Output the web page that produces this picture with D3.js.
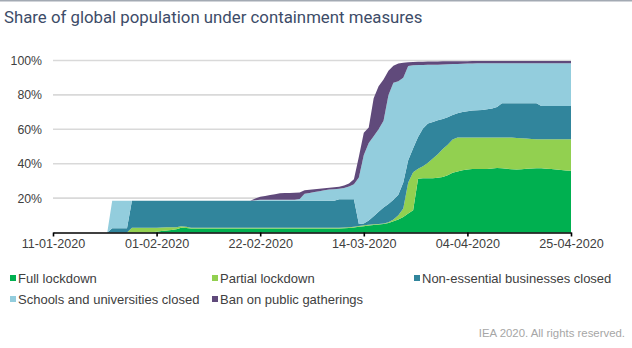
<!DOCTYPE html>
<html>
<head>
<meta charset="utf-8">
<script src="https://cdn.jsdelivr.net/npm/d3@7"></script>
<style>
  html, body { margin: 0; padding: 0; background: #fff; }
  svg { display: block; }
</style>
</head>
<body>
<svg id="chart" width="632" height="348"></svg>
<script>
// Daily share of world population (%) under each type of measure, 11 Jan – 25 Apr 2020
const firstDay = "2020-01-11";
const lastDay = "2020-04-25";
const tickDates = ["2020-01-11", "2020-02-01", "2020-02-22", "2020-03-14", "2020-04-04", "2020-04-25"];
const yTicks = [20, 40, 60, 80, 100];

const seriesKeys = ["full", "partial", "nonEssential", "schools", "ban"];
const seriesNames = ["Full lockdown", "Partial lockdown", "Non-essential businesses closed",
                     "Schools and universities closed", "Ban on public gatherings"];
const seriesColors = ["#00b050", "#92d050", "#31859c", "#93cddd", "#604a7b"];

const fullLockdown = [
  0,0,0,0,0,0,0,0,0,0,0,0,
  0,0,0,0,0,0,0,0,
  0.2,0.4,0.8,1.2,1.5,1.9,2.8,2.6,
  2.3,2.3,2.3,2.3,2.3,2.3,2.3,2.3,2.3,2.3,2.3,2.3,2.3,2.3,2.3,2.3,2.3,2.3,2.3,2.3,2.3,2.3,2.3,2.3,2.3,2.3,2.3,2.3,2.3,2.3,2.3,
  2.4,2.6,2.9,3.3,3.7,4.0,4.3,4.6,4.9,5.5,6.5,7.5,9,11,13,31.3,31.5,31.5,31.5,31.8,32.3,33.3,34.8,35.5,36.2,36.7,
  36.9,36.9,36.9,36.9,37.2,37.5,37.3,37.0,36.8,36.7,36.8,37.0,37.2,37.3,37.3,37.1,36.9,36.6,36.3,36.1,35.9
];
const partialLockdown = [
  0,0,0,0,0,0,0,0,0,0,0,0,0,0,0,0,
  2.8,2.8,2.8,2.8,
  2.6,2.4,2.1,1.8,1.5,1.2,0.8,0.7,
  0.5,0.5,0.5,0.5,0.5,0.5,0.5,0.5,0.5,0.5,0.5,0.5,0.5,0.5,0.5,0.5,0.5,0.5,0.5,0.5,0.5,0.5,0.5,0.5,0.5,0.5,0.5,0.5,0.5,0.5,0.5,
  0.5,0.5,0.5,0.5,0.5,0.5,0.5,0.4,0.4,0.5,
  1.0,2.5,5,18,22,5.7,7,9,11.5,13.7,16.2,17.7,19.2,19.8,19.1,18.6,18.4,18.4,18.4,18.4,18.1,17.8,18.0,18.3,18.4,18.3,
  18.0,17.6,17.2,16.9,16.9,17.1,17.3,17.6,17.9,18.1,18.3
];
const nonEssentialClosed = [
  0,0,0,0,0,0,0,0,0,0,0,0,
  2.5,2.5,2.5,2.5,
  15.7,15.7,15.7,15.7,
  15.7,15.7,15.6,15.5,15.5,15.4,14.9,15.2,
  15.7,15.7,15.7,15.7,15.7,15.7,15.7,15.7,15.7,15.7,15.7,15.7,15.7,15.7,15.7,15.7,15.7,15.7,15.7,15.7,15.7,15.7,15.7,15.7,15.7,15.7,15.7,15.7,15.7,15.7,
  16.5,16.4,16.2,15.9,1.2,1.1,2.5,4.7,7.0,9.2,10.5,11.5,12,15,13,14,18.5,22,22.8,21.3,19.7,17.5,16.0,14.3,14.0,14.7,15.2,
  15.6,15.8,15.9,16.3,16.8,17.7,19.8,19.8,19.9,20.1,20.3,20.5,20.7,20.9,19.4,19.4,19.4,19.4,19.4,19.4,19.4
];
const schoolsClosed = [
  0,0,0,0,0,0,0,0,0,0,0,0,
  16,16,16,16,
  0,0,0,0,0,0,0,0,0,0,0,0,0,0,0,0,0,0,0,0,0,0,0,0,0,
  0.3,0.5,0.5,0.5,0.5,0.5,0.5,0.5,0.5,
  1.0,4.0,4.5,5.0,5.5,6.0,6.5,6.7,6.1,6.5,7.5,8.7,27,39.7,45,46.5,48,50.5,63.5,68,66,61,54.8,48.2,41.9,36.9,34.2,33.2,
  32.4,31.7,30.8,29.6,28.7,28.1,27.7,27.4,27.3,27.2,26.8,26.3,25.4,23.3,
  23.3,23.3,23.3,23.3,23.3,23.3,23.3,
  24.8,24.8,24.8,24.8,24.8,24.8,24.8
];
const gatheringsBanned = [
  0,0,0,0,0,0,0,0,0,0,0,0,0,0,0,0,0,0,0,0,0,0,0,0,0,0,0,0,0,0,0,0,0,0,0,0,0,0,0,0,0,
  1.0,1.8,2.2,2.8,3.3,3.8,4.0,4.0,4.1,3.8,2.0,1.9,1.7,1.5,1.2,1.0,1.1,1.2,1.5,1.7,3.0,12,13,9,22,25,24,14,10,10.3,8.7,
  2.2,2.0,1.9,1.9,1.9,1.9,1.8,1.8,1.7,1.6,1.6,1.5,1.4,1.4,
  1.3,1.3,1.3,1.3,1.3,1.3,1.3,1.3,1.3,1.3,1.3,1.3,1.3,1.3,1.3,1.3,1.3,1.3,1.3,1.3
];

// ---- build rows for the stack ----
const parse = d3.utcParse("%Y-%m-%d");
const days = d3.utcDay.range(parse(firstDay), d3.utcDay.offset(parse(lastDay), 1));
const columns = [fullLockdown, partialLockdown, nonEssentialClosed, schoolsClosed, gatheringsBanned];
const rows = days.map((date, i) => {
  const r = { date };
  seriesKeys.forEach((k, j) => { r[k] = columns[j][i]; });
  return r;
});

const svg = d3.select("#chart");
const W = 632, H = 348;
const margin = { left: 53, right: 61, top: 60.5, bottom: 115.5 };
const plotBottom = H - margin.bottom;

const x = d3.scaleUtc()
  .domain([parse(firstDay), parse(lastDay)])
  .range([margin.left, W - margin.right]);
const y = d3.scaleLinear().domain([0, 100]).range([plotBottom, margin.top]);

// top rule and title
svg.append("rect").attr("x", 0).attr("y", 0).attr("width", W).attr("height", 1.5).attr("fill", "#a3aab3");
svg.append("text")
  .attr("x", 4).attr("y", 22.5)
  .attr("font-family", "Roboto, 'Open Sans', sans-serif")
  .attr("font-size", 16.8)
  .attr("fill", "#3d4c68")
  .text("Share of global population under containment measures");

// gridlines
svg.append("g").selectAll("line").data(yTicks).join("line")
  .attr("x1", margin.left).attr("x2", W - margin.right)
  .attr("y1", d => y(d)).attr("y2", d => y(d))
  .attr("stroke", "#d9d9d9").attr("stroke-width", 1.6);

// stacked areas
const stack = d3.stack().keys(seriesKeys);
const layers = stack(rows);
const area = d3.area()
  .x(d => x(d.data.date))
  .y0(d => y(d[0]))
  .y1(d => y(d[1]));
svg.append("g").selectAll("path").data(layers).join("path")
  .attr("d", area)
  .attr("fill", (d, i) => seriesColors[i]);

// y axis labels
const yAxis = d3.axisLeft(y).tickValues(yTicks).tickSize(0).tickPadding(11).tickFormat(d => d + "%");
const gy = svg.append("g").attr("transform", `translate(${margin.left},0)`).call(yAxis);
gy.select(".domain").remove();
gy.selectAll("text").attr("font-family", "'Liberation Sans', Arial, sans-serif").attr("font-size", 12.3).attr("fill", "#404040");

// x axis
const fmt = d3.utcFormat("%d-%m-%Y");
const xAxis = d3.axisBottom(x).tickValues(tickDates.map(parse)).tickSize(4).tickSizeOuter(0).tickPadding(2.5).tickFormat(fmt);
const gx = svg.append("g").attr("transform", `translate(0,${plotBottom})`).call(xAxis);
gx.select(".domain").attr("stroke", "#000").attr("stroke-width", 1.6);
gx.selectAll(".tick line").attr("stroke", "#000").attr("stroke-width", 1.6);
gx.selectAll("text").attr("font-family", "'Liberation Sans', Arial, sans-serif").attr("font-size", 12.6).attr("fill", "#404040");

// legend: two rows, items snap to columns but never overlap the previous entry
const legend = svg.append("g").attr("font-family", "'Liberation Sans', Arial, sans-serif").attr("font-size", 13).attr("fill", "#404040");
const legendRows = [[0, 1, 2], [3, 4]];
const rowY = [278, 299];
legendRows.forEach((items, r) => {
  let cursor = 0;
  items.forEach((idx, c) => {
    const x0 = Math.max(10 + 202 * c, cursor);
    const g = legend.append("g").attr("transform", `translate(${x0},${rowY[r]})`);
    g.append("rect").attr("x", 0).attr("y", -3).attr("width", 6).attr("height", 6).attr("fill", seriesColors[idx]);
    const t = g.append("text").attr("x", 8).attr("y", 4.6).text(seriesNames[idx]);
    cursor = x0 + 8 + t.node().getComputedTextLength() + 6;
  });
});

// source note
svg.append("text")
  .attr("x", 625).attr("y", 337)
  .attr("text-anchor", "end")
  .attr("font-family", "'Liberation Sans', Arial, sans-serif")
  .attr("font-size", 11.4)
  .attr("fill", "#a6a6a6")
  .text("IEA 2020. All rights reserved.");
</script>
</body>
</html>
